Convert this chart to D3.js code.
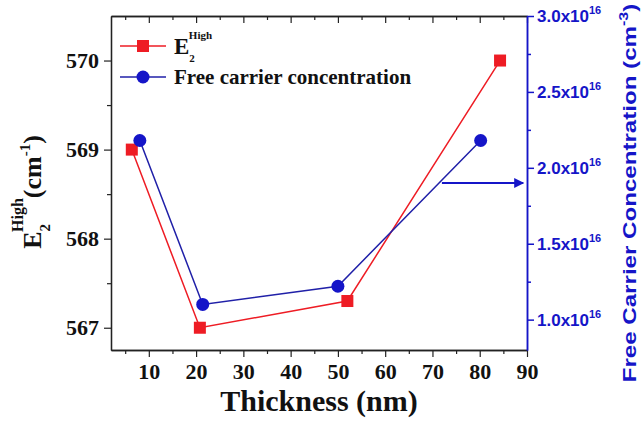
<!DOCTYPE html>
<html>
<head>
<meta charset="utf-8">
<script src="https://cdn.jsdelivr.net/npm/d3@7"></script>
<style>
  body { margin: 0; background: #fff; }
  svg text { font-family: "Liberation Serif", serif; font-weight: bold; }
</style>
</head>
<body>
<div id="graph"></div>
<script>
// data
const thicknessE2 = [6.4, 20.8, 52.0, 84.3];
const e2High = [569.0, 567.0, 567.3, 570.0];
const thicknessN = [8.1, 21.4, 50.0, 80.2];
const carrier = [2.18, 1.10, 1.22, 2.18]; // x 1e16 cm^-3
const xTicks = [10, 20, 30, 40, 50, 60, 70, 80, 90];
const yLeftTicks = [567, 568, 569, 570];
const yRightTicks = [1.0, 1.5, 2.0, 2.5, 3.0];

const W = 641, H = 421;
const m = {top: 16, right: 114, bottom: 71, left: 111};
const iw = W - m.left - m.right, ih = H - m.top - m.bottom;
const red = "#ee1c24", blue = "#1515c8", darkBlue = "#2020a8";

const svg = d3.select("#graph").append("svg").attr("width", W).attr("height", H);
const g = svg.append("g").attr("transform", `translate(${m.left},${m.top})`);

const x = d3.scaleLinear().domain([2, 90]).range([0, iw]);
const yL = d3.scaleLinear().domain([566.75, 570.5]).range([ih, 0]);
const yR = d3.scaleLinear().domain([0.8, 3.0]).range([ih, 0]);

const minorX = d3.range(5, 90, 10);
const minorL = [567.5, 568.5, 569.5];
const minorR = [1.25, 1.75, 2.25, 2.75];

// bottom axis
const gx = g.append("g").attr("transform", `translate(0,${ih})`)
  .call(d3.axisBottom(x).tickValues(xTicks).tickSize(7).tickSizeOuter(0).tickPadding(6));
g.append("g").attr("transform", `translate(0,${ih})`)
  .call(d3.axisBottom(x).tickValues(minorX).tickSize(4).tickSizeOuter(0).tickFormat(""));
// top axis, ticks inward
g.append("g").call(d3.axisTop(x).tickValues(xTicks).tickSize(-7).tickSizeOuter(0).tickFormat(""));
g.append("g").call(d3.axisTop(x).tickValues(minorX).tickSize(-4).tickSizeOuter(0).tickFormat(""));
// left axis
const gl = g.append("g").call(d3.axisLeft(yL).tickValues(yLeftTicks).tickSize(7).tickSizeOuter(0).tickPadding(5).tickFormat(d3.format("d")));
g.append("g").call(d3.axisLeft(yL).tickValues(minorL).tickSize(4).tickSizeOuter(0).tickFormat(""));
g.selectAll(".domain").attr("stroke", "#222").attr("stroke-width", 1.3);
g.selectAll(".tick line").attr("stroke", "#222").attr("stroke-width", 1.2);

// right axis (blue)
const gr = g.append("g").attr("transform", `translate(${iw},0)`)
  .call(d3.axisRight(yR).tickValues(yRightTicks).tickSize(7).tickSizeOuter(0).tickFormat(""));
const gr2 = g.append("g").attr("transform", `translate(${iw},0)`)
  .call(d3.axisRight(yR).tickValues(minorR).tickSize(4).tickSizeOuter(0).tickFormat(""));
[gr, gr2].forEach(a => a.selectAll(".domain, .tick line").attr("stroke", blue).attr("stroke-width", 1.5));

gx.selectAll(".tick text").attr("font-size", 22).attr("fill", "#111");
gl.selectAll(".tick text").attr("font-size", 22).attr("fill", "#111");

// right tick labels with superscript
gr.selectAll(".tick").append("text")
  .attr("x", 10).attr("dy", "0.35em")
  .attr("fill", blue)
  .style("font-family", "'Liberation Sans', Arial, sans-serif")
  .attr("font-size", 17)
  .each(function(d) {
    const t = d3.select(this);
    t.append("tspan").text(d.toFixed(1) + "x10");
    t.append("tspan").attr("dy", -8).attr("font-size", 11).text("16");
  });

// lines
const lineE = d3.line().x(d => x(d[0])).y(d => yL(d[1]));
const lineN = d3.line().x(d => x(d[0])).y(d => yR(d[1]));
const dE = thicknessE2.map((t, i) => [t, e2High[i]]);
const dN = thicknessN.map((t, i) => [t, carrier[i]]);

g.append("path").datum(dE).attr("d", lineE).attr("fill", "none").attr("stroke", red).attr("stroke-width", 1.5);
g.append("path").datum(dN).attr("d", lineN).attr("fill", "none").attr("stroke", darkBlue).attr("stroke-width", 1.5);

g.selectAll(".sq").data(dE).enter().append("rect")
  .attr("x", d => x(d[0]) - 6).attr("y", d => yL(d[1]) - 6)
  .attr("width", 12).attr("height", 12).attr("fill", red);
g.selectAll(".ci").data(dN).enter().append("circle")
  .attr("cx", d => x(d[0])).attr("cy", d => yR(d[1])).attr("r", 6.5).attr("fill", blue);

// arrow pointing to the right axis
svg.append("defs").append("marker").attr("id", "arr")
  .attr("viewBox", "0 0 10 10").attr("refX", 9).attr("refY", 5)
  .attr("markerWidth", 6).attr("markerHeight", 5).attr("orient", "auto")
  .append("path").attr("d", "M0,0L10,5L0,10Z").attr("fill", blue);
g.append("line")
  .attr("x1", x(72)).attr("x2", x(89.2))
  .attr("y1", yR(1.9)).attr("y2", yR(1.9))
  .attr("stroke", blue).attr("stroke-width", 2).attr("marker-end", "url(#arr)");

// legend
const leg = g.append("g").attr("transform", "translate(9,0)");
leg.append("line").attr("x1", 0).attr("x2", 46).attr("y1", 30).attr("y2", 30).attr("stroke", red).attr("stroke-width", 1.5);
leg.append("rect").attr("x", 17).attr("y", 24).attr("width", 12).attr("height", 12).attr("fill", red);
leg.append("line").attr("x1", 0).attr("x2", 46).attr("y1", 61).attr("y2", 61).attr("stroke", darkBlue).attr("stroke-width", 1.5);
leg.append("circle").attr("cx", 23).attr("cy", 61).attr("r", 6.5).attr("fill", blue);
const le = leg.append("text").attr("x", 54).attr("y", 38).attr("font-size", 23).attr("fill", "#111");
le.append("tspan").text("E");
le.append("tspan").attr("font-size", 11).attr("dy", 8).text("2");
le.append("tspan").attr("font-size", 11).attr("dx", -6).attr("dy", -23).text("High");
leg.append("text").attr("x", 54).attr("y", 68).attr("font-size", 21).attr("fill", "#111")
  .text("Free carrier concentration");

// axis titles
svg.append("text").attr("x", 319).attr("y", 411).attr("text-anchor", "middle")
  .attr("font-size", 30).attr("fill", "#111").text("Thickness (nm)");

const yl = svg.append("text").attr("transform", "translate(41,192) rotate(-90)")
  .attr("text-anchor", "middle").attr("font-size", 26).attr("fill", "#111");
yl.append("tspan").text("E");
yl.append("tspan").attr("font-size", 15).attr("dy", 9).text("2");
yl.append("tspan").attr("font-size", 16).attr("dx", -8).attr("dy", -27).text("High");
yl.append("tspan").attr("dy", 18).text("(cm");
yl.append("tspan").attr("font-size", 15).attr("dy", -11).text("-1");
yl.append("tspan").attr("dy", 11).text(")");

const yr = svg.append("text").attr("transform", "translate(636,193) rotate(-90) scale(1.34,1)")
  .attr("text-anchor", "middle").attr("font-size", 18).attr("fill", blue)
  .style("font-family", "'Liberation Sans', Arial, sans-serif");
yr.append("tspan").text("Free Carrier Concentration (cm");
yr.append("tspan").attr("font-size", 12).attr("dy", -8).text("-3");
yr.append("tspan").attr("dy", 8).text(")");
</script>
</body>
</html>
